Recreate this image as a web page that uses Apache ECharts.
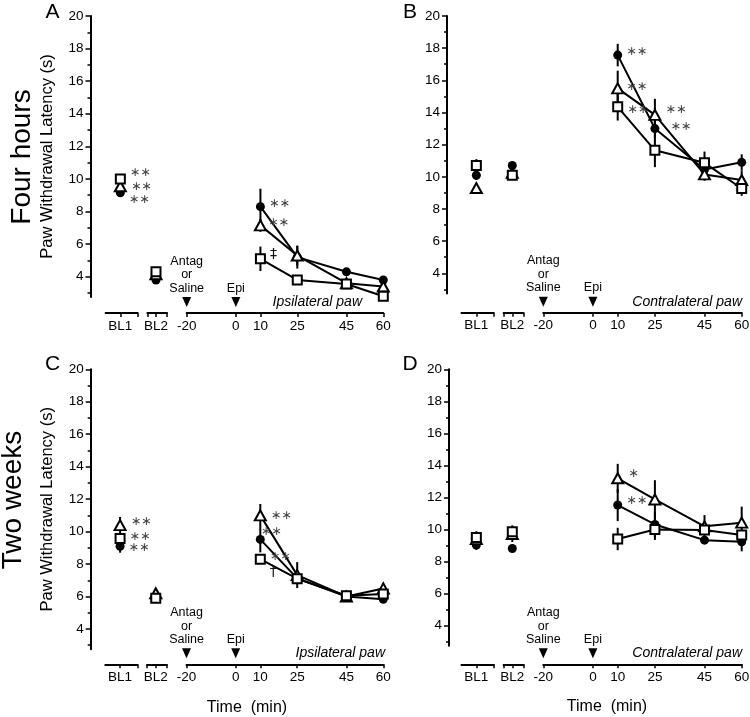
<!DOCTYPE html>
<html><head><meta charset="utf-8">
<script src="https://cdn.jsdelivr.net/npm/echarts@6/dist/echarts.min.js"></script>
<style>html,body{margin:0;padding:0;background:#fff}#c{width:750px;height:717px}</style>
</head><body><div id="c"></div>
<script>
// ---------------- DATA ----------------
const measureLabels = ['BL1', 'BL2', '10', '25', '45', '60'];
const measureX = [-47, -32.5, 10, 25, 45, 60];           // x value where each measurement is plotted
const timeTickValues = [-20, 0, 10, 25, 45, 60];
const yTickValues = [4, 6, 8, 10, 12, 14, 16, 18, 20];
const yMinorTickValues = [3, 5, 7, 9, 11, 13, 15, 17, 19];
const eventTimes = [-20, 0];
const eventLabels = ['Antag\nor\nSaline', 'Epi'];
const rowTitles = ['Four hours', 'Two weeks'];
const panelLetters = ['A', 'B', 'C', 'D'];
const pawSides = ['Ipsilateral paw', 'Contralateral paw', 'Ipsilateral paw', 'Contralateral paw'];
const yAxisTitle = 'Paw Withdrawal Latency (s)';
const xAxisTitle = 'Time  (min)';

// Panel A : four hours, ipsilateral
const A_circle = [9.15, 3.8, 8.3, 5.2, 4.3, 3.8];
const A_circleErr = [0.15, 0.1, 1.1, 0.7, 0.2, 0.2];
const A_triangle = [9.55, 4.15, 7.15, 5.3, 3.6, 3.4];
const A_triangleErr = [0.3, 0.3, 0.4, 0.6, 0.2, 0.3];
const A_square = [10.0, 4.3, 5.1, 3.8, 3.55, 2.8];
const A_squareErr = [0.25, 0.3, 0.75, 0.2, 0.2, 0.25];
const A_circleSig = ['**', '', '**', '', '', ''];
const A_triangleSig = ['**', '', '**', '', '', ''];
const A_squareSig = ['**', '', '‡', '', '', ''];

// Panel B : four hours, contralateral
const B_circle = [10.1, 10.7, 17.57, 13.0, 10.45, 10.9];
const B_circleErr = [0.3, 0.2, 0.7, 0.6, 0.4, 0.5];
const B_triangle = [9.3, 10.25, 15.5, 13.85, 10.15, 9.8];
const B_triangleErr = [0.3, 0.3, 1.1, 1.0, 0.4, 0.6];
const B_square = [10.7, 10.1, 14.35, 11.65, 10.87, 9.27];
const B_squareErr = [0.4, 0.2, 0.85, 1.05, 0.7, 0.45];
const B_circleSig = ['', '', '**', '**', '', ''];
const B_triangleSig = ['', '', '**', '**', '', ''];
const B_squareSig = ['', '', '**', '', '', ''];

// Panel C : two weeks, ipsilateral
const C_circle = [9.1, 6.0, 9.52, 7.12, 6.0, 5.83];
const C_circleErr = [0.4, 0.2, 0.8, 0.3, 0.2, 0.2];
const C_triangle = [10.4, 6.2, 11.0, 7.32, 6.0, 6.5];
const C_triangleErr = [0.5, 0.3, 0.7, 0.8, 0.2, 0.3];
const C_square = [9.58, 5.9, 8.3, 7.1, 6.05, 6.15];
const C_squareErr = [0.3, 0.2, 0.3, 0.3, 0.2, 0.2];
const C_circleSig = ['**', '', '**', '', '', ''];
const C_triangleSig = ['**', '', '**', '', '', ''];
const C_squareSig = ['**', '', '**\n†', '', '', ''];

// Panel D : two weeks, contralateral
const D_circle = [9.03, 8.82, 11.53, 10.32, 9.34, 9.24];
const D_circleErr = [0.3, 0.2, 1.0, 0.8, 0.2, 0.6];
const D_triangle = [9.4, 9.72, 13.2, 11.88, 10.2, 10.43];
const D_triangleErr = [0.5, 0.5, 0.9, 1.2, 0.7, 1.0];
const D_square = [9.5, 9.86, 9.41, 10.0, 9.97, 9.66];
const D_squareErr = [0.3, 0.4, 0.7, 0.65, 0.3, 0.3];
const D_circleSig = ['', '', '**', '', '', ''];
const D_triangleSig = ['', '', '*', '', '', ''];
const D_squareSig = ['', '', '', '', '', ''];

// ---------------- LAYOUT / STYLE ----------------
const FONT = 'Liberation Sans, Arial, sans-serif';
const Y_MIN = 2.75, Y_MAX = 20, X_MAX = 63;
const BL1_SEG = [-53, -40], BL2_SEG = [-36, -28], TIME_SEG = [-20, 60];
const layout = [
  { axisX: 90.5, y20: 16, y4: 276.7, pm20: 186.7, p60: 383.3, lineY: 313, letter: [52.5, 12.5], pawRight: 362, yName: true },
  { axisX: 447, y20: 16, y4: 273.3, pm20: 543.3, p60: 741.7, lineY: 312.7, letter: [410, 12], pawRight: 742, yName: false },
  { axisX: 90.7, y20: 369.3, y4: 629, pm20: 186.5, p60: 383.3, lineY: 664.3, letter: [52.5, 364.5], pawRight: 385, yName: true, xTitle: [247, 708] },
  { axisX: 449, y20: 369.3, y4: 625.7, pm20: 543.3, p60: 741.7, lineY: 664.3, letter: [410, 364.5], pawRight: 742, yName: false, xTitle: [607, 707] }
];
const rowTitlePos = [[22.5, 157], [13.5, 500]];
const sigOffsets = {
  'A-square-0': [0, -6], 'A-circle-0': [0, 7], 'A-circle-2': [0, -2.5], 'A-triangle-2': [-3, -3], 'A-square-2': [0, -4],
  'B-circle-2': [0, -3], 'B-triangle-2': [-2, -2], 'B-square-2': [0, 3], 'B-triangle-3': [0, -5], 'B-circle-3': [7, -2],
  'C-triangle-0': [0, -3], 'C-square-0': [0, -2], 'C-circle-0': [0, 2], 'C-circle-2': [-8, -8], 'C-square-2': [0, 5.5],
  'D-triangle-2': [0, -5], 'D-circle-2': [0, -4]
};
const groupStyles = {
  circle: { symbol: 'circle', size: 9, itemStyle: { color: '#000', borderWidth: 0, opacity: 1 } },
  triangle: { symbol: 'triangle', size: [11, 10], itemStyle: { color: '#fff', borderColor: '#000', borderWidth: 2, opacity: 1 } },
  square: { symbol: 'rect', size: 9, itemStyle: { color: '#fff', borderColor: '#000', borderWidth: 2, opacity: 1 } }
};

const panelData = [
  { circle: [A_circle, A_circleErr, A_circleSig], triangle: [A_triangle, A_triangleErr, A_triangleSig], square: [A_square, A_squareErr, A_squareSig] },
  { circle: [B_circle, B_circleErr, B_circleSig], triangle: [B_triangle, B_triangleErr, B_triangleSig], square: [B_square, B_squareErr, B_squareSig] },
  { circle: [C_circle, C_circleErr, C_circleSig], triangle: [C_triangle, C_triangleErr, C_triangleSig], square: [C_square, C_squareErr, C_squareSig] },
  { circle: [D_circle, D_circleErr, D_circleSig], triangle: [D_triangle, D_triangleErr, D_triangleSig], square: [D_square, D_squareErr, D_squareSig] }
];

const grids = [], xAxes = [], yAxes = [], series = [], graphics = [];

function sigLabel(text, key) {
  const fmt = text.split('\n').map(line =>
    /[†‡]/.test(line) ? '{d|' + line + '}' : '{a|' + line.replace(/\*/g, '∗') + '}').join('\n');
  return {
    show: true, position: 'right', distance: 4, offset: sigOffsets[key] || [0, 0],
    formatter: fmt, align: 'left',
    rich: {
      a: { fontFamily: 'DejaVu Sans', fontSize: 12.5, color: '#444', lineHeight: 15 },
      d: { fontFamily: 'DejaVu Sans', fontSize: 14, color: '#111', lineHeight: 15 }
    }
  };
}

layout.forEach((L, p) => {
  const scale = (L.p60 - L.pm20) / 80;
  const xmin = -20 - (L.pm20 - L.axisX) / scale;
  const unit = (L.y4 - L.y20) / 16;
  // main plotting grid
  const gi = grids.length;
  grids.push({ left: L.axisX, top: L.y20, width: (X_MAX - xmin) * scale, height: (Y_MAX - Y_MIN) * unit, outerBoundsMode: 'none', containLabel: false });
  const xi = xAxes.length;
  xAxes.push({ gridIndex: gi, type: 'value', min: xmin, max: X_MAX, show: false });
  const yi = yAxes.length;
  yAxes.push({
    gridIndex: gi, type: 'value', min: Y_MIN, max: Y_MAX, position: 'left',
    axisLine: { show: true, onZero: false, lineStyle: { color: '#000', width: 2 } },
    axisTick: { show: true, customValues: yTickValues, length: 5, lineStyle: { color: '#000', width: 1.5 } },
    axisLabel: { show: true, customValues: yTickValues, margin: 7, fontSize: 13.5, color: '#000', fontFamily: FONT },
    splitLine: { show: false },
    name: L.yName ? yAxisTitle : '', nameLocation: 'middle', nameGap: 35,
    nameTextStyle: { fontSize: 16.5, color: '#000', fontFamily: FONT }
  });
  yAxes.push({
    gridIndex: gi, type: 'value', min: Y_MIN, max: Y_MAX, position: 'left', offset: 0,
    axisLine: { show: false, onZero: false },
    axisTick: { show: true, customValues: yMinorTickValues, length: 3, lineStyle: { color: '#000', width: 1.5 } },
    axisLabel: { show: false }, splitLine: { show: false }
  });

  // axis segments under the plot
  const segs = [
    { range: BL1_SEG, ticks: [measureX[0], BL1_SEG[1]], labels: [measureX[0]] },
    { range: BL2_SEG, ticks: [BL2_SEG[0], measureX[1], BL2_SEG[1]], labels: [measureX[1]] },
    { range: TIME_SEG, ticks: timeTickValues, labels: timeTickValues }
  ];
  segs.forEach((s, k) => {
    const sg = grids.length;
    grids.push({ left: L.pm20 + (s.range[0] + 20) * scale, top: L.lineY - 1, width: (s.range[1] - s.range[0]) * scale, height: 1, outerBoundsMode: 'none', containLabel: false });
    const sx = xAxes.length;
    xAxes.push({
      gridIndex: sg, type: 'value', min: s.range[0], max: s.range[1], position: 'bottom',
      axisLine: { show: true, onZero: false, lineStyle: { color: '#000', width: 2 } },
      axisTick: { show: true, customValues: s.ticks, length: 4, lineStyle: { color: '#000', width: 1.5 } },
      axisLabel: {
        show: true, customValues: s.labels, margin: 6, fontSize: 13.5, color: '#000', fontFamily: FONT,
        showMinLabel: true, showMaxLabel: true,
        formatter: v => { const i = measureX.indexOf(v); return (i === 0 || i === 1) ? measureLabels[i] : String(v); }
      },
      splitLine: { show: false }
    });
    yAxes.push({ gridIndex: sg, type: 'value', min: 0, max: 1, show: false });
    if (k === 2) {
      // event markers (Antag/Saline, Epi)
      series.push({
        type: 'scatter', xAxisIndex: sx, yAxisIndex: yAxes.length - 1, clip: false, silent: true,
        symbol: 'triangle', symbolRotate: 180, symbolSize: [9, 10], symbolOffset: [0, -11],
        itemStyle: { color: '#000', opacity: 1 },
        label: { show: true, position: 'top', distance: 2, fontSize: 12.5, lineHeight: 13.5, align: 'center', color: '#000', fontFamily: FONT },
        data: eventTimes.map((t, i) => ({ value: [t, 0], label: { formatter: eventLabels[i] } }))
      });
    }
  });

  // data series
  const letter = panelLetters[p];
  ['circle', 'triangle', 'square'].forEach(g => {
    const [vals, errs, sigs] = panelData[p][g];
    const st = groupStyles[g];
    series.push({
      type: 'custom', xAxisIndex: xi, yAxisIndex: yi, z: 1, silent: true, clip: false,
      encode: { x: 0, y: 1 },
      data: measureX.map((x, i) => [x, vals[i], errs[i]]),
      renderItem: (params, api) => {
        const x = api.value(0), y = api.value(1), e = api.value(2);
        const a = api.coord([x, y + e]), b = api.coord([x, y - e]);
        return { type: 'line', shape: { x1: a[0], y1: a[1], x2: b[0], y2: b[1] }, style: { stroke: '#000', lineWidth: 2 } };
      }
    });
    const item = i => {
      const d = { value: [measureX[i], vals[i]] };
      if (sigs[i]) d.label = sigLabel(sigs[i], letter + '-' + g + '-' + i);
      return d;
    };
    series.push({
      type: 'scatter', xAxisIndex: xi, yAxisIndex: yi, z: 3, silent: true, clip: false,
      symbol: st.symbol, symbolSize: st.size, itemStyle: st.itemStyle,
      data: [0, 1].map(item)
    });
    series.push({
      type: 'line', xAxisIndex: xi, yAxisIndex: yi, z: 2, silent: true, clip: false,
      symbol: st.symbol, symbolSize: st.size, showSymbol: true, showAllSymbol: true,
      itemStyle: st.itemStyle, lineStyle: { color: '#000', width: 2 },
      data: [2, 3, 4, 5].map(item)
    });
  });

  // texts
  graphics.push({ type: 'text', x: L.letter[0], y: L.letter[1], silent: true,
    style: { text: letter, fontSize: 21, fontFamily: FONT, fill: '#000', align: 'center', verticalAlign: 'middle' } });
  graphics.push({ type: 'text', x: L.pawRight, y: L.lineY - 11, silent: true,
    style: { text: pawSides[p], fontSize: 14, fontStyle: 'italic', fontFamily: FONT, fill: '#000', align: 'right', verticalAlign: 'middle' } });
  if (L.xTitle) graphics.push({ type: 'text', x: L.xTitle[0], y: L.xTitle[1], silent: true,
    style: { text: xAxisTitle, fontSize: 16, fontFamily: FONT, fill: '#000', align: 'center', verticalAlign: 'middle' } });
});

rowTitles.forEach((t, r) => {
  graphics.push({ type: 'text', x: rowTitlePos[r][0], y: rowTitlePos[r][1], rotation: Math.PI / 2, silent: true,
    style: { text: t, fontSize: 28, fontFamily: FONT, fill: '#000', align: 'center', verticalAlign: 'middle' } });
});

const chart = echarts.init(document.getElementById('c'), null, { renderer: 'canvas' });
chart.setOption({
  animation: false,
  backgroundColor: '#fff',
  grid: grids, xAxis: xAxes, yAxis: yAxes, series: series, graphic: graphics
});
</script>
</body></html>
